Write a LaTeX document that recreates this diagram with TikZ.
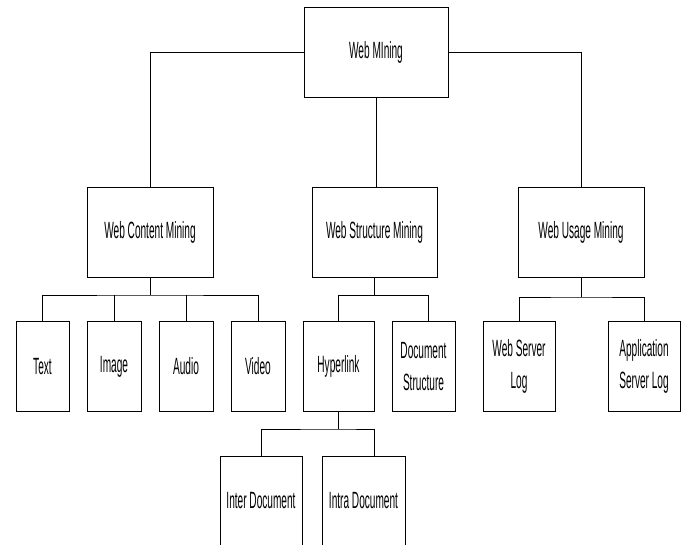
\documentclass[tikz,border=0pt]{standalone}
\usepackage{fontspec}
\setmainfont{Liberation Sans}[FakeStretch=0.43]
\usepackage{tikz}
\usetikzlibrary{positioning}
\tikzset{
	link/.style={line width=0.8pt},
	minebox/.style={
		rectangle, draw=black, line width=0.9pt,
		minimum height=90pt, inner sep=0pt, align=center,
		font=\fontsize{23.5}{32}\selectfont
	}
}

\begin{document}
\begin{tikzpicture}[x=1pt,y=-1pt]
	\clip (0,0) rectangle (685,544);
	
	%Nodes
	\node[minebox, minimum width=144pt] (web)       at (376,52)    {Web MIning};
	\node[minebox, minimum width=126pt] (content)   at (150,232)   {Web Content Mining};
	\node[minebox, minimum width=125pt] (structure) at (374.5,232) {Web Structure Mining};
	\node[minebox, minimum width=126pt] (usage)     at (581,232)   {Web Usage Mining};
	
	\node[minebox, minimum width=53pt] (text)      at (42.5,366.5)  {Text};
	\node[minebox, minimum width=54pt] (image)     at (114,366.5)   {Image};
	\node[minebox, minimum width=54pt] (audio)     at (186,366.5)   {Audio};
	\node[minebox, minimum width=54pt] (video)     at (258,366.5)   {Video};
	\node[minebox, minimum width=71pt] (hyperlink) at (338.5,366.5) {Hyperlink};
	\node[minebox, minimum width=63pt] (docstruct) at (423.5,366.5) {Document\\Structure};
	\node[minebox, minimum width=72pt] (webserver) at (519,366.5)   {Web Server\\Log};
	\node[minebox, minimum width=72pt] (appserver) at (644,366.5)   {Application\\Server Log};
	
	\node[minebox, minimum width=82pt] (inter) at (261,501)   {Inter Document};
	\node[minebox, minimum width=83pt] (intra) at (363.5,501) {Intra Document};
	
	%Bus points
	\coordinate (cbus) at (150,295);
	\coordinate (sbus) at (338.5,295);
	\coordinate (ubus) at (581,297);
	\coordinate (hbus) at (338.5,429);
	
	%Lines
	\draw[link] (web.west) -| (content.north);
	\draw[link] (web.east) -| (usage.north);
	\draw[link] (web.south) -- (web.south |- structure.north);
	
	\draw[link] (content.south) -- (cbus);
	\draw[link] (text.north) |- (cbus) -| (video.north);
	\draw[link] (image.north) -- (image.north |- cbus);
	\draw[link] (audio.north) -- (audio.north |- cbus);
	
	\draw[link] (structure.south) -- (structure.south |- sbus);
	\draw[link] (hyperlink.north) |- (sbus) -| (428,322);
	
	\draw[link] (usage.south) -- (ubus);
	\draw[link] (webserver.north) |- (ubus) -| (appserver.north);
	
	\draw[link] (hyperlink.south) -- (hbus);
	\draw[link] (inter.north) |- (hbus) -| (374,456);
\end{tikzpicture}
\end{document}
